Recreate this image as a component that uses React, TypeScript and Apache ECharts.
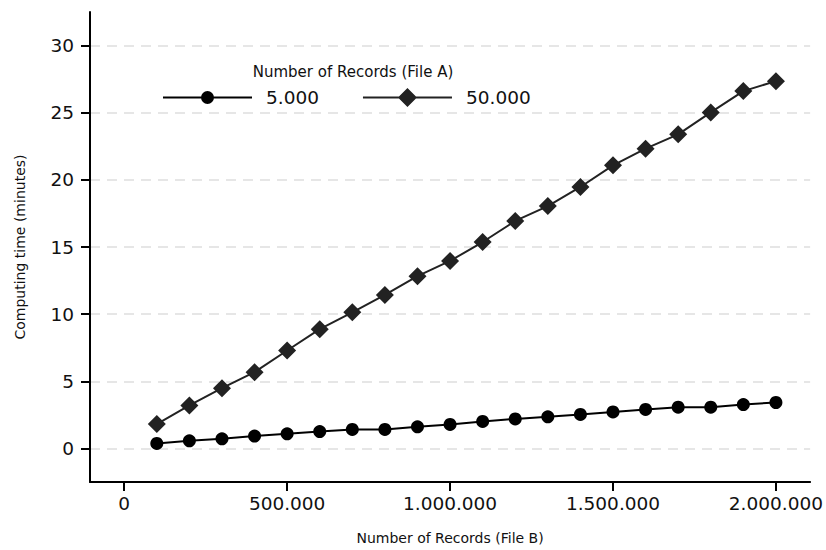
import React, { useEffect, useRef } from "react";
import * as echarts from "echarts";

const recordsFileB = [
  100000, 200000, 300000, 400000, 500000, 600000, 700000, 800000, 900000, 1000000,
  1100000, 1200000, 1300000, 1400000, 1500000, 1600000, 1700000, 1800000, 1900000, 2000000,
];
const time5000 = [
  0.37, 0.57, 0.72, 0.92, 1.09, 1.26, 1.41, 1.41, 1.61, 1.79,
  2.01, 2.2, 2.35, 2.53, 2.72, 2.9, 3.07, 3.07, 3.27, 3.42,
];
const time50000 = [
  1.81, 3.2, 4.49, 5.68, 7.29, 8.88, 10.14, 11.43, 12.83, 13.96,
  15.37, 16.94, 18.05, 19.47, 21.08, 22.32, 23.39, 25.02, 26.61, 27.35,
];
const yTicks = [0, 5, 10, 15, 20, 25, 30];
const xTicks = [0, 500000, 1000000, 1500000, 2000000];
const seriesNames = ["5.000", "50.000"];
const legendTitle = "Number of Records (File A)";
const xName = "Number of Records (File B)";
const yName = "Computing time (minutes)";

const FONT = "'DejaVu Sans', 'Liberation Sans', Arial, sans-serif";

// legend icons: a 2px line with the marker in the middle (89px wide)
const ICON_CIRCLE =
  "path://M0,5.5 H89 V7.5 H0 Z M51,6.5 A6.5,6.5 0 1 1 38,6.5 A6.5,6.5 0 1 1 51,6.5 Z";
const ICON_DIAMOND =
  "path://M0,8.5 H89 V10.5 H0 Z M44.5,0 L54,9.5 L44.5,19 L35,9.5 Z";

const fmtThousands = (v: number) =>
  String(Math.round(v)).replace(/\B(?=(\d{3})+(?!\d))/g, ".");

export default function App() {
  const ref = useRef<HTMLDivElement>(null);
  useEffect(() => {
    if (!ref.current) return;
    const chart = echarts.init(ref.current, undefined, { renderer: "svg" });
    chart.setOption({
      animation: false,
      backgroundColor: "#ffffff",
      textStyle: { fontFamily: FONT },
      grid: { left: 90, right: 15, top: 12, bottom: 68, containLabel: false },
      graphic: [
        {
          type: "text",
          x: 353,
          y: 72,
          style: {
            text: legendTitle,
            fontFamily: FONT,
            fontSize: 15,
            fill: "#111",
            textAlign: "center",
            textVerticalAlign: "middle",
          },
        },
      ],
      legend: {
        data: [
          { name: seriesNames[0], icon: ICON_CIRCLE, itemStyle: { color: "#000" } },
          { name: seriesNames[1], icon: ICON_DIAMOND, itemStyle: { color: "#222" } },
        ],
        left: 163,
        top: 88,
        padding: 0,
        itemWidth: 89,
        itemHeight: 20,
        itemGap: 44,
        symbolKeepAspect: true,
        itemStyle: { borderWidth: 0 },
        textStyle: {
          fontFamily: FONT,
          fontSize: 18.5,
          color: "#111",
          padding: [0, 0, 0, 9],
        },
      },
      xAxis: {
        type: "value",
        min: -105000,
        max: 2105000,
        name: xName,
        nameLocation: "middle",
        nameGap: 49,
        nameTextStyle: { fontFamily: FONT, fontSize: 14, color: "#111" },
        axisLine: { onZero: false, lineStyle: { color: "#000", width: 2 } },
        axisTick: {
          show: true,
          length: 9,
          customValues: xTicks,
          lineStyle: { color: "#000", width: 2 },
        },
        axisLabel: {
          customValues: xTicks,
          margin: 12,
          fontFamily: FONT,
          fontSize: 18.5,
          color: "#111",
          formatter: (v: number) => fmtThousands(v),
        },
        splitLine: { show: false },
      },
      yAxis: {
        type: "value",
        min: -2.5,
        max: 32.5,
        name: yName,
        nameLocation: "middle",
        nameGap: 63,
        nameTextStyle: { fontFamily: FONT, fontSize: 14, color: "#111" },
        axisLine: { show: true, onZero: false, lineStyle: { color: "#000", width: 2 } },
        axisTick: {
          show: true,
          length: 9,
          customValues: yTicks,
          lineStyle: { color: "#000", width: 2 },
        },
        axisLabel: {
          customValues: yTicks,
          margin: 16,
          fontFamily: FONT,
          fontSize: 18.5,
          color: "#111",
        },
        splitLine: {
          show: true,
          lineStyle: { color: "#dedede", width: 1.5, type: [10, 7] },
        },
      },
      series: [
        {
          name: seriesNames[0],
          type: "line",
          data: recordsFileB.map((x, i) => [x, time5000[i]]),
          symbol: "circle",
          symbolSize: 13,
          showAllSymbol: true,
          itemStyle: { color: "#000" },
          lineStyle: { color: "#000", width: 2 },
          z: 3,
        },
        {
          name: seriesNames[1],
          type: "line",
          data: recordsFileB.map((x, i) => [x, time50000[i]]),
          symbol: "diamond",
          symbolSize: 18,
          showAllSymbol: true,
          itemStyle: { color: "#222" },
          lineStyle: { color: "#222", width: 2 },
          z: 3,
        },
      ],
    });
    return () => chart.dispose();
  }, []);
  return (
    <div
      ref={ref}
      style={{ position: "absolute", left: 0, top: 0, width: 826, height: 550 }}
    />
  );
}
